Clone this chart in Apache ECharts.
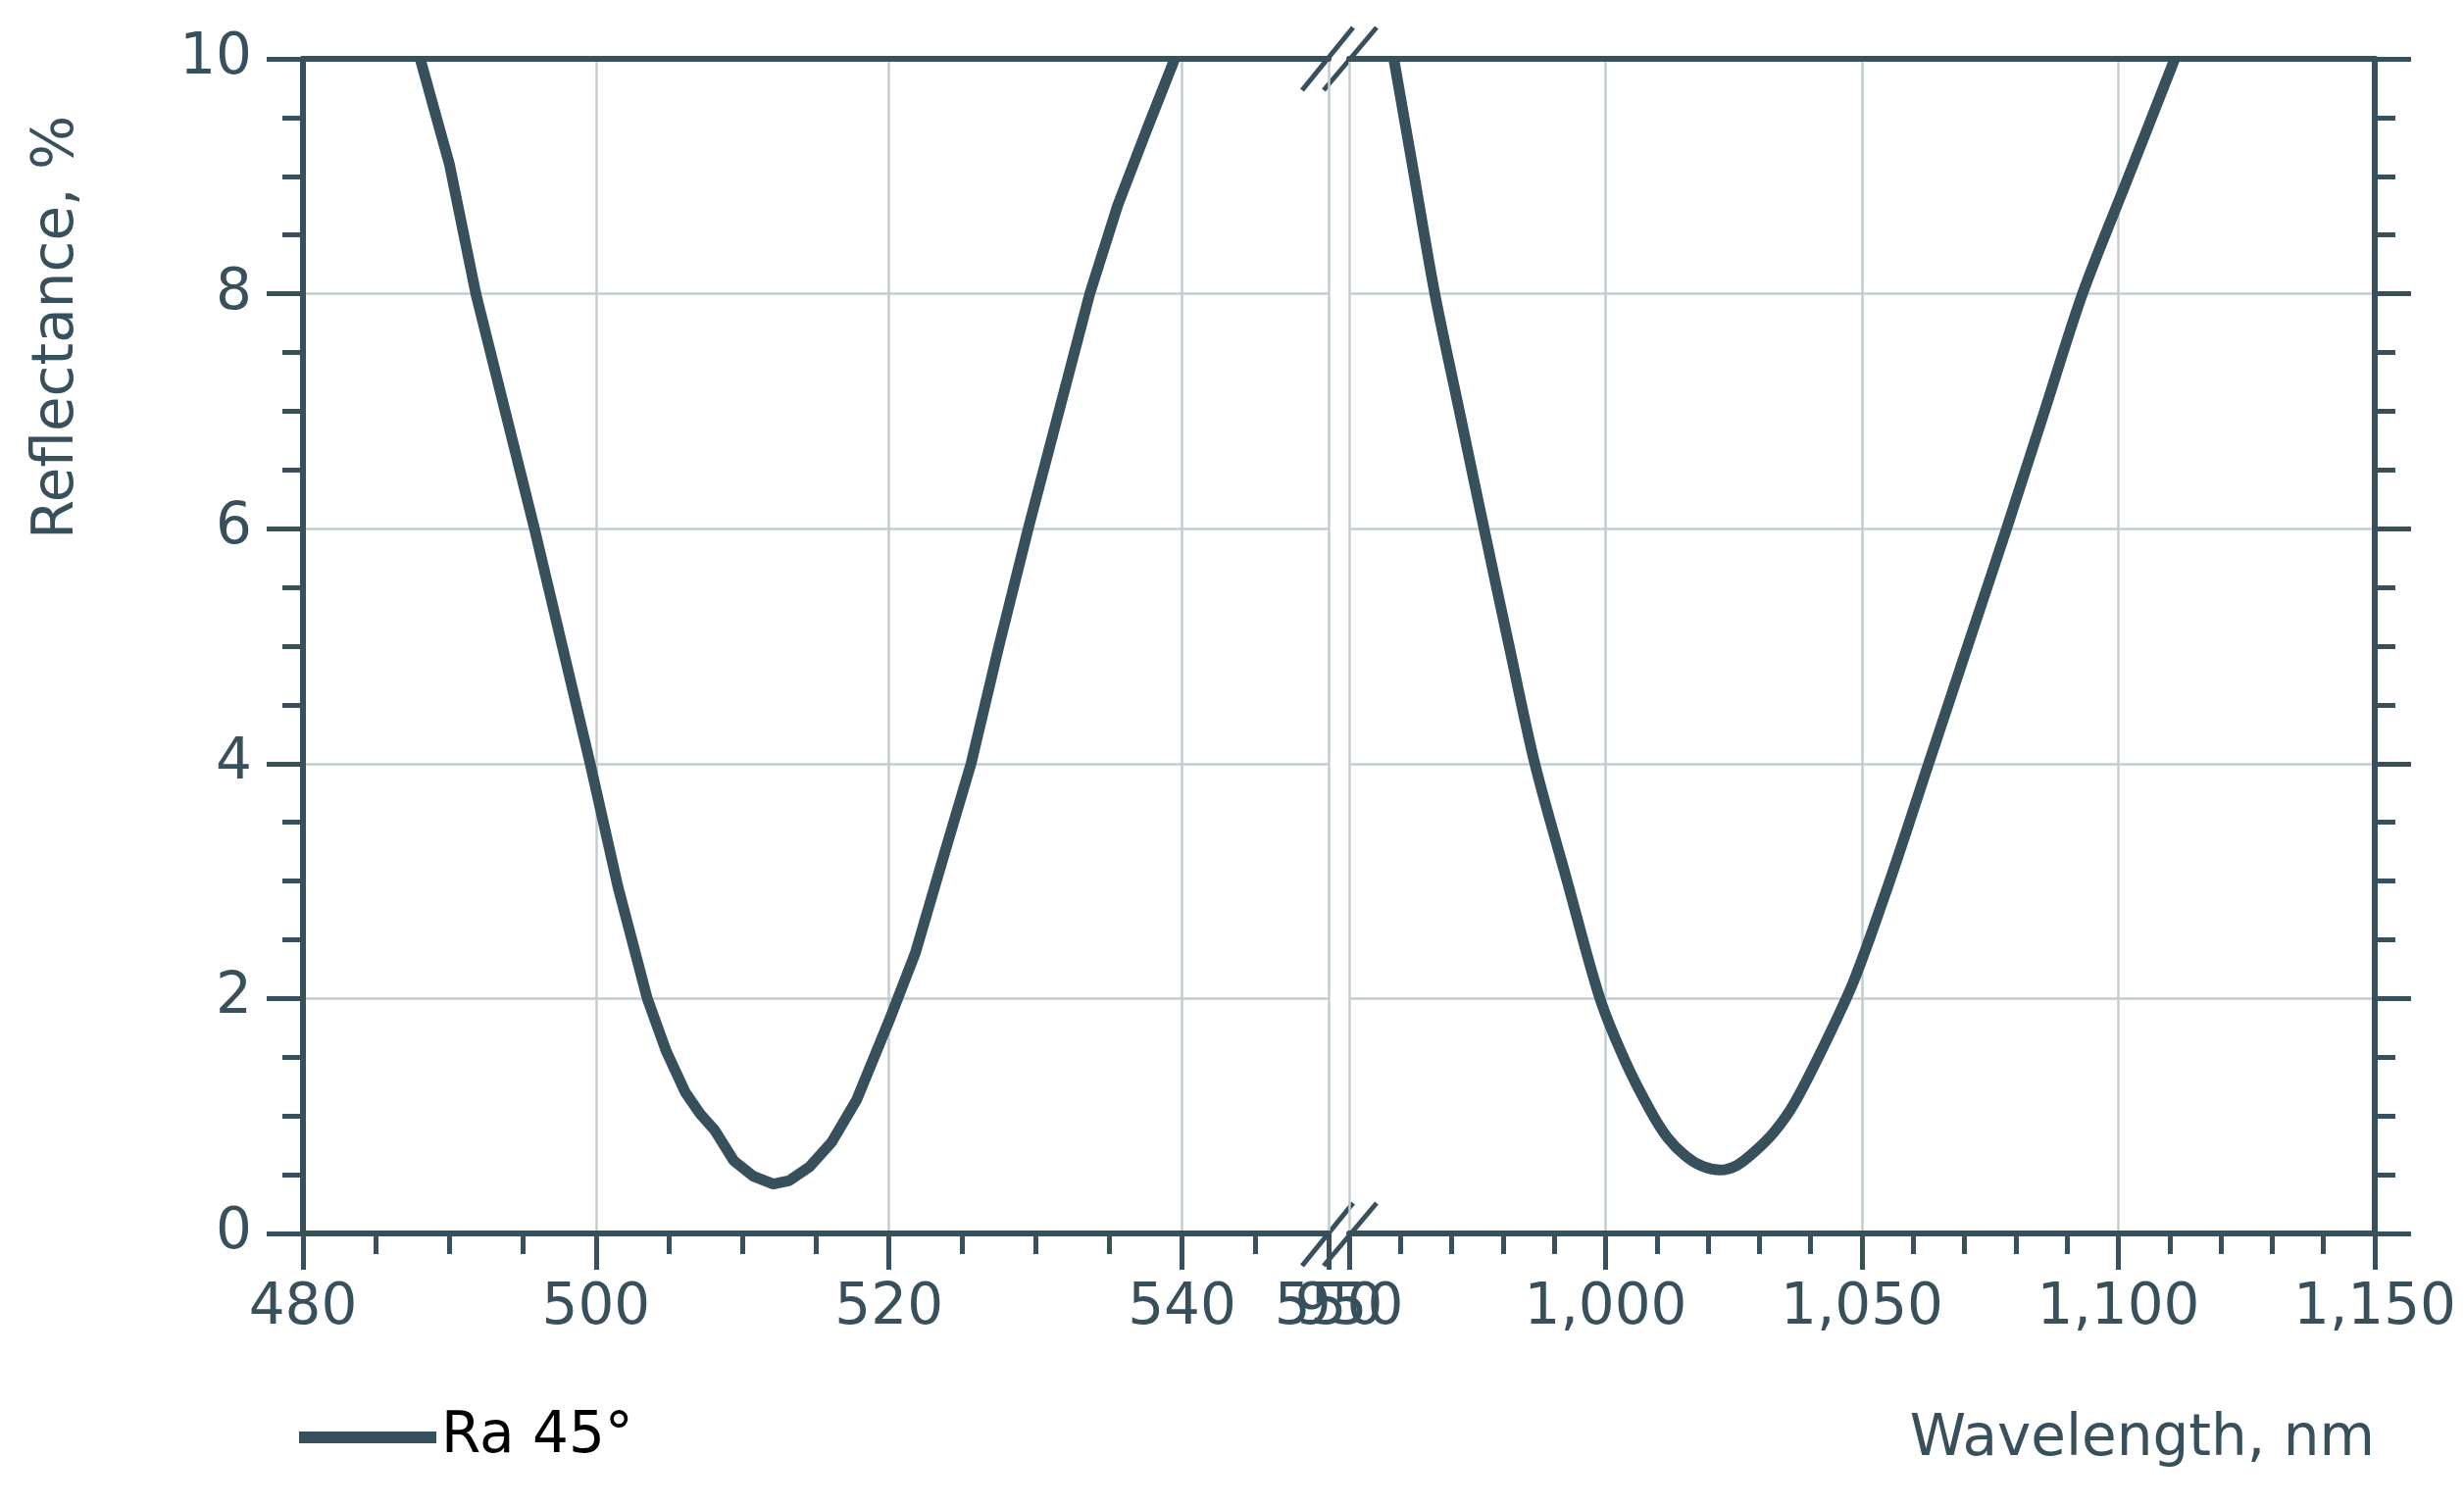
<!DOCTYPE html>
<html>
<head>
<meta charset="utf-8">
<script src="https://cdn.jsdelivr.net/npm/echarts@6/dist/echarts.min.js"></script>
<style>html,body{margin:0;padding:0;background:#fff}#main{width:2513px;height:1537px}</style>
</head>
<body>
<div id="main"></div>
<script>
// 左段 (nm, %)
var visX = [488, 489, 490, 491.8, 493.8, 495.8, 497.7, 499.6, 501.5, 503.5, 504.8, 506.1, 507.1, 508.1, 509.4, 510.7, 512.1, 513.2, 514.6, 516.1, 517.8, 520, 521.8, 523.7, 525.6, 527.5, 529.5, 531.6, 533.7, 535.6, 537.6, 539.5];
var visY = [10, 9.55, 9.1, 8, 7, 6, 5, 4, 2.95, 2, 1.55, 1.2, 1.02, 0.88, 0.62, 0.49, 0.42, 0.45, 0.57, 0.78, 1.14, 1.81, 2.39, 3.2, 4, 5, 6, 7, 8, 8.75, 9.4, 10];
// 右段 (nm, %)
var irX = [958.7, 962.7, 966.7, 971.5, 976.3, 981.2, 986.2, 992.5, 998.9, 1004, 1008.8, 1012, 1015.6, 1019, 1022.4, 1025.6, 1028.9, 1032.8, 1036.7, 1042.6, 1048.5, 1055.8, 1063, 1070.6, 1078.2, 1085.6, 1093, 1102, 1111];
var irY = [10, 9, 8, 7, 6, 5, 4, 3, 2, 1.45, 1.04, 0.82, 0.66, 0.57, 0.54, 0.58, 0.69, 0.86, 1.1, 1.6, 2.16, 3.05, 4, 5, 6, 7, 8, 9, 10];

var C = '#37505c', G = '#c3cccf', F = 'DejaVu Sans';

function pairs(xs, ys) { return xs.map(function (x, i) { return [x, ys[i]]; }); }

function mainX(grid, min, max, step) {
	return {
		type: 'value', gridIndex: grid, min: min, max: max, interval: step, position: 'bottom',
		axisLine: { show: true, lineStyle: { color: C, width: 6 } },
		axisTick: { show: true, length: 37, lineStyle: { color: C, width: 5 } },
		axisLabel: { fontSize: 58, color: C, fontFamily: F, margin: 48 },
		splitLine: { show: true, lineStyle: { color: G, width: 2.5 } }
	};
}
function minorX(grid, min, max, step) {
	return {
		type: 'value', gridIndex: grid, min: min, max: max, interval: step, position: 'bottom',
		axisLine: { show: false }, axisLabel: { show: false }, splitLine: { show: false },
		axisTick: { show: true, length: 21, lineStyle: { color: C, width: 5 } }
	};
}
function topX(grid, min, max) {
	return {
		type: 'value', gridIndex: grid, min: min, max: max, position: 'top',
		axisLine: { show: true, lineStyle: { color: C, width: 6 } },
		axisTick: { show: false }, axisLabel: { show: false }, splitLine: { show: false }
	};
}

var chart = echarts.init(document.getElementById('main'));
chart.setOption({
	backgroundColor: '#fff',
	animation: false,
	grid: [
		{ left: 309, right: 1158, top: 60, bottom: 279 },
		{ left: 1376, right: 91, top: 60, bottom: 279 }
	],
	xAxis: [
		mainX(0, 480, 550, 20), minorX(0, 480, 550, 5), topX(0, 480, 550),
		mainX(1, 950, 1150, 50), minorX(1, 950, 1150, 10), topX(1, 950, 1150)
	],
	yAxis: [{
		type: 'value', gridIndex: 0, min: 0, max: 10, interval: 2, position: 'left',
		axisLine: { show: true, lineStyle: { color: C, width: 6 } },
		axisTick: { show: true, length: 37, lineStyle: { color: C, width: 5 } },
		minorTick: { show: true, splitNumber: 4, length: 21, lineStyle: { color: C, width: 5 } },
		axisLabel: { fontSize: 58, color: C, fontFamily: F, margin: 52 },
		splitLine: { show: true, lineStyle: { color: G, width: 2.5 } }
	}, {
		type: 'value', gridIndex: 1, min: 0, max: 10, interval: 2, position: 'left',
		axisLine: { show: false }, axisTick: { show: false }, axisLabel: { show: false },
		splitLine: { show: true, lineStyle: { color: G, width: 2.5 } }
	}, {
		type: 'value', gridIndex: 1, min: 0, max: 10, interval: 2, position: 'right',
		axisLine: { show: true, lineStyle: { color: C, width: 6 } },
		axisTick: { show: true, length: 37, lineStyle: { color: C, width: 5 } },
		minorTick: { show: true, splitNumber: 4, length: 21, lineStyle: { color: C, width: 5 } },
		axisLabel: { show: false }, splitLine: { show: false }
	}],
	legend: {
		left: 300, top: 1432, icon: 'rect', itemWidth: 140, itemHeight: 12, itemGap: 30,
		textStyle: { fontSize: 58, color: '#000', fontFamily: F },
		data: ['Ra 45°']
	},
	series: [{
		name: 'Ra 45°', type: 'line', xAxisIndex: 0, yAxisIndex: 0, showSymbol: false,
		lineStyle: { color: C, width: 11 }, itemStyle: { color: C },
		data: pairs(visX, visY)
	}, {
		name: 'Ra 45°', type: 'line', xAxisIndex: 3, yAxisIndex: 1, showSymbol: false, smooth: 0.3,
		lineStyle: { color: C, width: 11 }, itemStyle: { color: C },
		data: pairs(irX, irY)
	}],
	graphic: [
		{ type: 'line', shape: { x1: 1328, y1: 92, x2: 1380, y2: 28 }, style: { stroke: C, lineWidth: 5 } },
		{ type: 'line', shape: { x1: 1350, y1: 92, x2: 1404, y2: 28 }, style: { stroke: C, lineWidth: 5 } },
		{ type: 'line', shape: { x1: 1328, y1: 1291, x2: 1380, y2: 1227 }, style: { stroke: C, lineWidth: 5 } },
		{ type: 'line', shape: { x1: 1350, y1: 1291, x2: 1404, y2: 1227 }, style: { stroke: C, lineWidth: 5 } },
		{ type: 'text', right: 91, top: 1440, style: { text: 'Wavelength, nm', fontSize: 58, fill: C, fontFamily: F } },
		{ type: 'text', x: 30, y: 550, rotation: Math.PI / 2, style: { text: 'Reflectance, %', fontSize: 58, fill: C, fontFamily: F } }
	]
});
</script>
</body>
</html>
